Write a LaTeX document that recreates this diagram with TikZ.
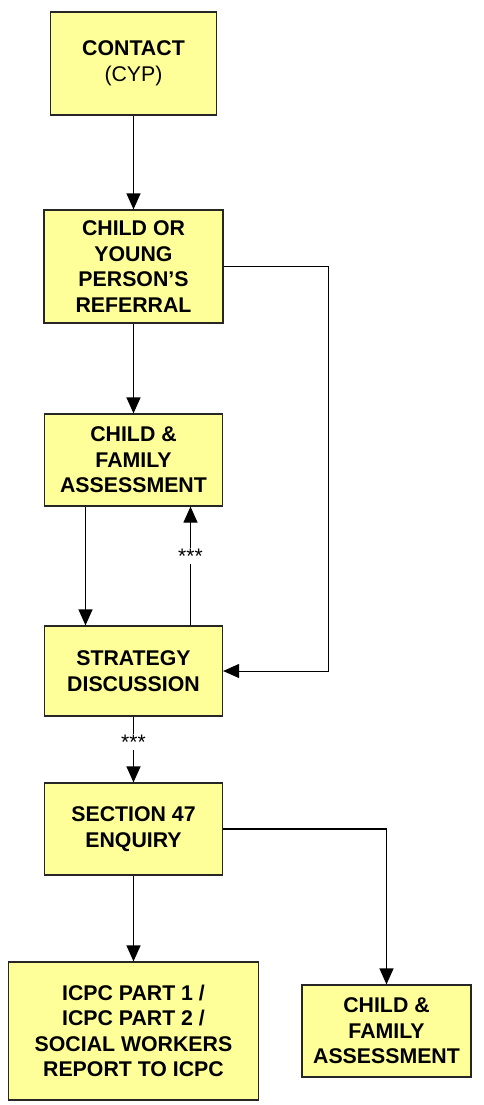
\documentclass[tikz,border=0pt]{standalone}
\usepackage{fontspec}
\setmainfont{Liberation Sans}
\usetikzlibrary{arrows.meta}
\definecolor{boxyellow}{HTML}{FFFF99}
\tikzset{
  stage/.style={draw=black!85, line width=1.2pt, fill=boxyellow, align=center,
    font=\fontsize{21.3}{25.5}\selectfont\bfseries, inner sep=0pt},
  flow/.style={line width=1.2pt, -{Triangle[width=14pt,length=16pt]}},
  stars/.style={fill=white, font=\fontsize{21}{22}\selectfont, inner sep=1pt}
}

\begin{document}
\begin{tikzpicture}[x=1pt,y=-1pt]
	%%%%% START %%%%%
	\useasboundingbox (0,0) rectangle (484,1105);

	\node[stage, minimum width=166pt, minimum height=103pt] (contact) at (133.5,63.5)
		{CONTACT\\{\mdseries (CYP)}};
	\node[stage, minimum width=179pt, minimum height=113pt] (referral) at (133.5,266.5)
		{CHILD OR\\YOUNG\\PERSON’S\\REFERRAL};
	\node[stage, minimum width=178pt, minimum height=92pt] (assess) at (133.5,460)
		{CHILD \&\\FAMILY\\ASSESSMENT};
	\node[stage, minimum width=178pt, minimum height=90pt] (strategy) at (133.5,671)
		{STRATEGY\\DISCUSSION};
	\node[stage, minimum width=178pt, minimum height=92pt] (enquiry) at (133.5,829)
		{SECTION 47\\ENQUIRY};
	\node[stage, minimum width=250pt, minimum height=138pt] (icpc) at (133.5,1031)
		{ICPC PART 1 /\\ICPC PART 2 /\\SOCIAL WORKERS\\REPORT TO ICPC};
	\node[stage, minimum width=169pt, minimum height=92pt] (assessb) at (386.5,1031)
		{CHILD \&\\FAMILY\\ASSESSMENT};

	\draw[flow] (contact.south) -- (referral.north);
	\draw[flow] (referral.south) -- (assess.north);
	\draw[flow] ([xshift=-48pt]assess.south) -- ([xshift=-48pt]strategy.north);
	\draw[flow] ([xshift=57pt]strategy.north) -- node[stars, pos=0.56, yshift=3pt] {***} ([xshift=57pt]assess.south);
	\draw[flow, line width=0.9pt] (referral.east) -- ++(105,0) |- (strategy.east);

	\draw[flow] (strategy.south) -- node[stars, pos=0.43, yshift=3pt] {***} (enquiry.north);
	\draw[flow] (enquiry.south) -- (icpc.north);
	\draw[flow] (enquiry.east) -| (assessb.north);
	%%%%% END %%%%%
\end{tikzpicture}
\end{document}
